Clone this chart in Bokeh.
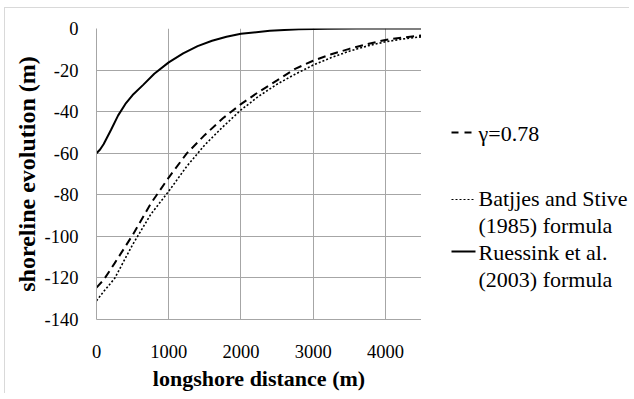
from bokeh.plotting import figure
from bokeh.layouts import row
from bokeh.models import FixedTicker, Range1d
from bokeh.core.properties import value
from bokeh.embed import file_html
from bokeh.resources import INLINE

# ---- data ----
x_ticks = [0, 1000, 2000, 3000, 4000]
y_ticks = [0, -20, -40, -60, -80, -100, -120, -140]
y_tick_labels = ["0", "-20", "-40", "-60", "-80", "-100", "-120", "-140"]

gamma_x = [0, 100, 250, 500, 750, 1000, 1250, 1500, 1750, 2000, 2250, 2500,
           2750, 3000, 3250, 3500, 3750, 4000, 4250, 4500]
gamma_y = [-124.7, -120.9, -113.0, -99.4, -84.3, -71.7, -60.1, -51.2, -43.2, -36.4,
           -30.4, -25.0, -19.4, -15.5, -12.4, -9.8, -7.5, -5.5, -4.3, -3.4]

batjjes_x = [0, 100, 250, 500, 750, 1000, 1250, 1500, 1750, 2000, 2250, 2500,
             2750, 3000, 3250, 3500, 3750, 4000, 4250, 4500]
batjjes_y = [-131.0, -126.5, -120.3, -104.0, -89.5, -78.3, -66.3, -56.0, -47.3, -39.2,
             -32.5, -26.8, -22.0, -17.6, -14.0, -10.9, -8.4, -6.4, -5.0, -4.0]

ruessink_x = [0, 50, 100, 200, 300, 400, 500, 650, 800, 1000, 1200, 1400, 1600,
              1800, 2000, 2400, 2800, 3200, 3600, 4000, 4500]
ruessink_y = [-60.0, -58.2, -55.6, -48.8, -41.8, -36.3, -32.0, -27.0, -21.8, -16.3,
              -12.0, -8.5, -5.9, -4.0, -2.5, -1.1, -0.4, -0.1, 0.0, 0.0, 0.0]

legend_lines = [["\u03b3=0.78"],
                ["Batjjes and Stive", "(1985) formula"],
                ["Ruessink et al.", "(2003) formula"]]

FONT = "Liberation Serif"
GRID = "#a6a6a6"

p = figure(frame_width=325, frame_height=291,
           x_range=Range1d(0, 4500), y_range=Range1d(-140, 0),
           output_backend="svg", toolbar_location=None,
           min_border_left=91, min_border_top=20, min_border_right=0,
           min_border_bottom=70)
p.outline_line_color = None
p.background_fill_color = "white"
p.border_fill_color = "white"

# grids
p.xgrid.ticker = FixedTicker(ticks=x_ticks)
p.ygrid.ticker = FixedTicker(ticks=y_ticks)
p.xgrid.grid_line_color = GRID
p.ygrid.grid_line_color = GRID

# axes
for ax in (p.xaxis[0], p.yaxis[0]):
    ax.axis_line_color = GRID
    ax.major_tick_line_color = None
    ax.minor_tick_line_color = None
    ax.major_label_text_font = FONT
    ax.major_label_text_font_size = "18.5px"
    ax.major_label_text_color = "black"
    ax.axis_label_text_font = FONT
    ax.axis_label_text_font_style = "bold"
    ax.axis_label_text_color = "black"

p.xaxis.ticker = FixedTicker(ticks=x_ticks)
p.yaxis.ticker = FixedTicker(ticks=y_ticks)
p.yaxis.major_label_overrides = {t: l for t, l in zip(y_ticks, y_tick_labels)}
p.xaxis.major_label_standoff = 19
p.yaxis.major_label_standoff = 12
p.xaxis.axis_label = "longshore distance (m)"
p.yaxis.axis_label = "shoreline evolution (m)"
p.xaxis.axis_label_text_font_size = "22px"
p.yaxis.axis_label_text_font_size = "24px"
p.xaxis.axis_label_standoff = 5
p.yaxis.axis_label_standoff = 2

# series
p.line(gamma_x, gamma_y, line_color="black", line_width=2, line_dash="8 5")
p.line(batjjes_x, batjjes_y, line_color="black", line_width=1.6, line_dash="2 2")
p.line(ruessink_x, ruessink_y, line_color="black", line_width=2)

# legend panel: separate figure to the right, its frame aligned with the main frame,
# ranges in pixels so that positions below are layout offsets
LG_W, LG_H = 208, 291
lg = figure(frame_width=LG_W, frame_height=LG_H, x_range=Range1d(0, LG_W), y_range=Range1d(0, LG_H),
            output_backend="svg", toolbar_location=None,
            min_border_left=0, min_border_right=0, min_border_top=20, min_border_bottom=70)
lg.axis.visible = False
lg.grid.visible = False
lg.outline_line_color = None
lg.background_fill_color = "white"
lg.border_fill_color = "white"

sample_styles = [dict(line_dash="7 6", line_width=2),
                 dict(line_dash="2 2", line_width=1.2),
                 dict(line_dash="solid", line_width=2)]
sample_x0, sample_x1, text_x = 30, 54, 57
sample_sy = [187, 120, 68]
text_sy = [186, 121, 67]
line_gap = 26.5

tx, ty, tt = [], [], []
for lines, style, ssy, tsy in zip(legend_lines, sample_styles, sample_sy, text_sy):
    lg.line([sample_x0, sample_x1], [ssy, ssy], line_color="black", **style)
    for i, txt in enumerate(lines):
        tx.append(text_x)
        ty.append(tsy - i * line_gap)
        tt.append(txt)
lg.text(x=tx, y=ty, text=tt, text_font=value(FONT), text_font_size=value("22px"),
        text_baseline="middle", text_align="left", text_color="black")

layout = row(p, lg, spacing=0, margin=(7, 0, 0, 4))
layout.styles = {"border-top": "1px solid #d9d9d9", "border-left": "1px solid #d9d9d9"}

open("out.html", "w").write(file_html(layout, INLINE))
